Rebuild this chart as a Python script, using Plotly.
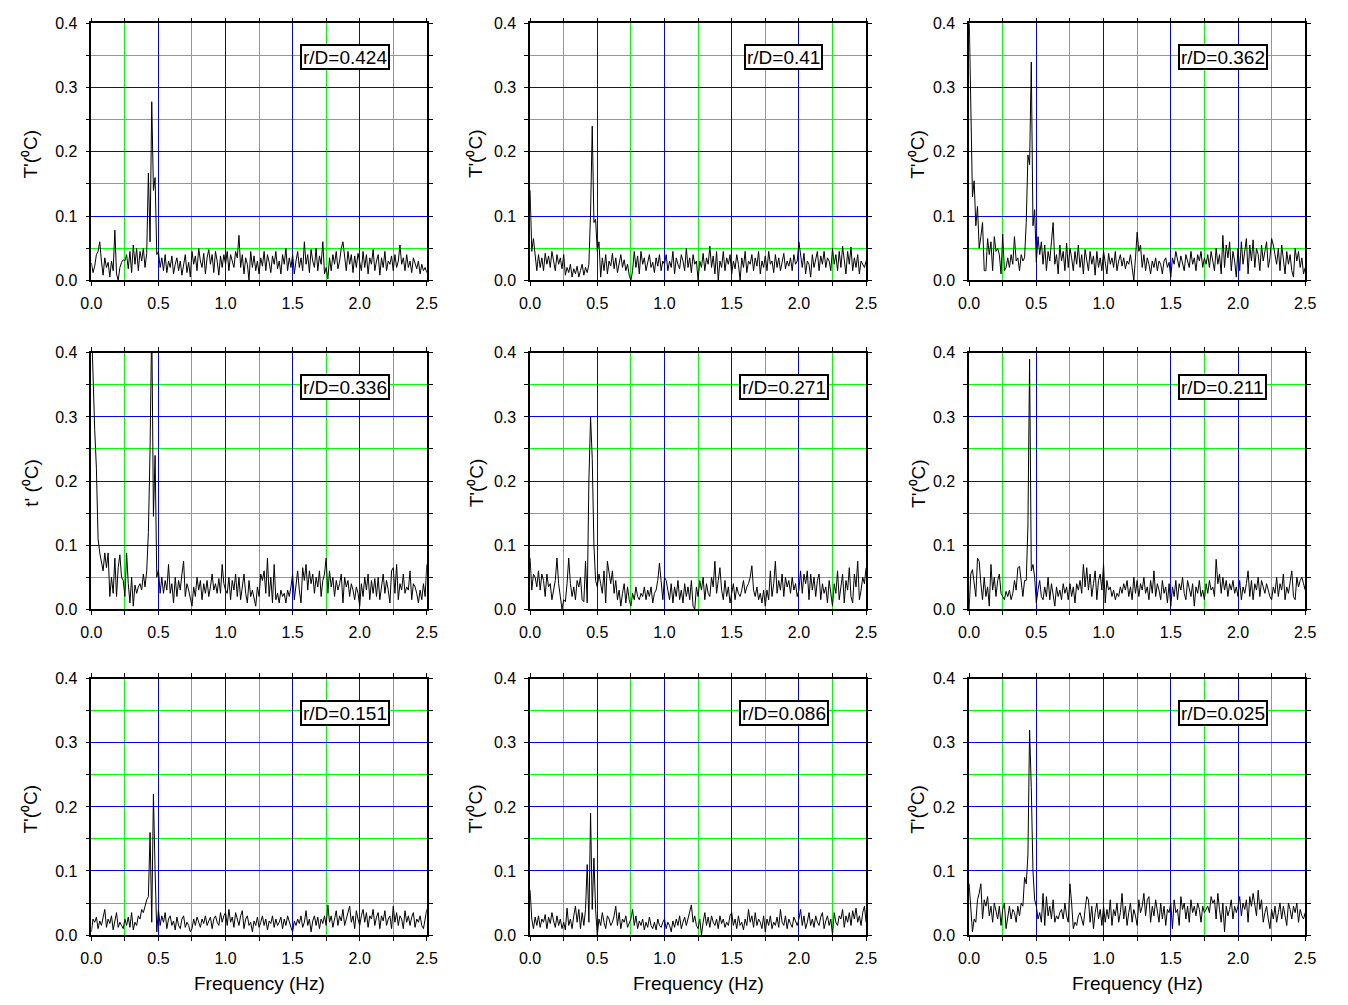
import numpy as np
import plotly.graph_objects as go

# ---------------- data (temperature fluctuation amplitude, units of 1e-3 degC) -------------
F_MAX = 2.5  # Hz, spectrum evaluated on a uniform grid from 0 to F_MAX

RD_LABELS = ["r/D=0.424", "r/D=0.41", "r/D=0.362",
             "r/D=0.336", "r/D=0.271", "r/D=0.211",
             "r/D=0.151", "r/D=0.086", "r/D=0.025"]

Y_TITLES = ["T'(⁰C)", "T'(⁰C)", "T'(⁰C)",
            "t' (⁰C)", "T'(⁰C)", "T'(⁰C)",
            "T'(⁰C)", "T'(⁰C)", "T'(⁰C)"]

X_TITLE = "Frequency (Hz)"

T424 = [27, 12, 22, 40, 45, 60, 30, 8, 35, 20,
        28, 5, 30, 15, 78, 10, 0, 20, 28, 32,
        30, 40, 18, 45, 12, 55, 25, 50, 15, 45, 30, 50, 20, 42,
        167, 60, 278, 140, 160, 40,
        45, 20, 35, 15, 40, 12, 30, 20, 38, 10, 25, 35, 15, 30, 8, 22, 40, 12, 28, 5,
        45, 25, 38, 15, 50, 30, 20, 42, 10, 35, 48, 25, 40, 12, 45, 30, 8, 38, 20, 40,
        25, 45, 15, 40, 30, 20, 45, 35, 70, 20, 40, 10, 35, 25, 0, 45, 20, 38, 15, 30,
        10, 35, 22, 45, 15, 40, 28, 12, 38, 25, 45, 18, 30, 10, 40, 25, 50, 15, 35, 20,
        40, 10, 30, 45, 20, 35, 15, 60, 25, 40, 12, 48, 30, 20, 50, 15, 38, 25, 60, 10,
        20, 2, 35, 15, 40, 25, 45, 18, 30, 50, 60, 35, 15, 45, 25, 40, 12, 38, 20, 42,
        30, 15, 45, 20, 40, 10, 35, 25, 48, 15, 30, 40, 8, 35, 20, 45, 15, 30, 25, 38,
        15, 40, 20, 30, 55, 25, 35, 15, 40, 20, 30, 12, 35, 25, 18, 30, 10, 25, 15, 20, 12]

T410 = [140, 45, 65, 40,
        15, 40, 20, 35, 15, 42, 25, 38, 20, 45, 30, 15, 40, 25, 35, 18,
        40, 8, 20, 12, 25, 5, 18, 10, 22, 5, 15, 25, 8, 20, 12, 25,
        105, 240, 90, 95, 45, 60, 5,
        35, 15, 40, 10, 30, 22, 42, 18, 35, 12, 28, 40, 20, 32, 15, 25, 8,
        0, 15, 45, 20, 38, 10, 45, 25, 35, 15, 30, 40, 20, 28, 12, 35, 22, 40, 15, 30,
        25, 40, 15, 30, 20, 45, 10, 35, 25, 18, 40, 30, 15, 50, 20, 35, 12, 40, 25, 30,
        0, 30, 20, 42, 15, 35, 25, 53, 20, 38, 10, 45, 0, 30, 20, 45, 15, 35, 25, 40,
        10, 30, 18, 40, 25, 0, 35, 20, 45, 12, 30, 25, 40, 15, 35, 22, 45, 10, 30, 20,
        38, 15, 45, 25, 30, 12, 40, 20, 35, 15, 28, 42, 18, 30, 22, 35, 15, 40, 25, 30,
        60, 35, 20, 42, 10, 30, 25, 5, 40, 20, 35, 45, 15, 38, 25, 45, 20, 35, 30, 15,
        50, 25, 40, 15, 45, 20, 53, 30, 10, 45, 25, 52, 15, 35, 20, 40, 10, 30, 25, 20, 30]

T362 = [420, 260, 130, 155, 85, 115, 50, 68, 90, 15, 15, 65, 40, 60, 15, 68, 45, 50, 40, 10,
        72, 15, 20, 35, 20, 40, 25, 68, 30, 35, 15, 40, 30, 35, 90, 195, 180, 340, 85, 110,
        28, 68, 40, 60, 25, 55, 15, 45, 30, 60, 90, 25, 40, 10, 55, 30, 45, 15, 58, 20,
        50, 35, 15, 45, 25, 55, 20, 40, 10, 48, 30, 15, 45, 25, 38, 8, 45, 20, 35, 15,
        45, 30, 10, 42, 25, 35, 20, 45, 15, 30, 40, 22, 35, 18, 30, 25, 40, 20, 0, 35,
        75, 45, 55, 20, 40, 15, 35, 25, 10, 30, 20, 35, 15, 30, 25, 10, 30, 35, 20, 28,
        5, 35, 25, 45, 30, 20, 38, 25, 15, 40, 30, 20, 45, 25, 35, 15, 40, 30, 45, 20,
        35, 25, 40, 20, 45, 30, 15, 50, 25, 40, 10, 70, 20, 55, 35, 60, 15, 45, 30, 5,
        50, 15, 60, 25, 45, 65, 10, 55, 30, 63, 20, 50, 40, 15, 55, 30, 45, 60, 20, 35,
        65, 55, 40, 25, 50, 15, 55, 30, 10, 45, 25, 40, 15, 5, 50, 30, 45, 20, 35, 10, 20]

T336 = [450, 350, 280, 220, 110, 88, 75, 60, 88, 65, 88, 20, 50, 25, 80, 20, 65, 85, 50, 45,
        20, 88, 40, 10, 50, 5, 38, 25, 35, 40, 30, 55, 35, 60, 120, 250, 450, 145, 240, 50,
        62, 25, 50, 25, 45, 30, 70, 25, 40, 10, 50, 20, 45, 30, 55, 75, 20, 40, 30, 15,
        5, 35, 20, 50, 30, 45, 15, 40, 25, 45, 20, 35, 55, 30, 40, 25, 48, 25, 70, 40,
        30, 25, 50, 15, 45, 30, 55, 20, 50, 15, 40, 55, 25, 10, 45, 20, 30, 15, 5, 35,
        20, 55, 45, 60, 25, 80, 20, 50, 10, 70, 15, 25, 10, 30, 20, 25, 10, 30, 20, 35,
        55, 15, 40, 60, 30, 10, 65, 45, 70, 30, 60, 40, 55, 25, 50, 35, 60, 20, 45, 55,
        80, 25, 60, 35, 50, 20, 45, 30, 40, 55, 10, 50, 35, 45, 20, 40, 30, 15, 35, 25,
        5, 40, 20, 50, 30, 55, 15, 45, 25, 48, 20, 50, 15, 40, 55, 25, 45, 30, 10, 60,
        65, 25, 70, 15, 40, 30, 55, 25, 35, 30, 60, 15, 40, 35, 25, 10, 30, 15, 40, 20, 70]

T271 = [80, 30, 55, 50, 35, 60, 30, 55, 45, 20, 55, 35, 40, 15, 30, 45, 80, 40, 20, 0,
        15, 12, 40, 80, 40, 20, 35, 15, 45, 35, 50, 15, 12, 75, 10, 200, 300, 235, 100, 45,
        35, 55, 40, 25, 60, 10, 75, 55, 40, 60, 25, 45, 15, 30, 5, 25, 40, 10, 35, 15,
        5, 25, 15, 35, 20, 15, 25, 20, 35, 15, 30, 20, 35, 10, 25, 30, 45, 72, 40, 15,
        50, 45, 30, 15, 40, 10, 35, 20, 45, 15, 30, 10, 40, 20, 35, 15, 45, 5, 0, 35,
        20, 45, 30, 50, 15, 40, 25, 20, 50, 35, 75, 25, 45, 65, 30, 15, 45, 20, 35, 10,
        25, 40, 15, 35, 25, 20, 30, 45, 25, 35, 40, 50, 68, 30, 20, 35, 15, 25, 10, 30,
        5, 30, 15, 60, 20, 40, 75, 25, 45, 30, 55, 20, 50, 35, 45, 25, 50, 30, 40, 20,
        30, 60, 25, 55, 40, 60, 15, 55, 30, 50, 20, 45, 55, 15, 40, 25, 35, 10, 45, 20,
        5, 40, 25, 60, 15, 35, 55, 10, 45, 30, 65, 20, 10, 55, 35, 75, 15, 30, 50, 40, 65]

T211 = [0, 55, 62, 40, 20, 80, 75, 40, 15, 50, 20, 35, 5, 70, 30, 50, 20, 45, 55, 25,
        20, 15, 28, 20, 30, 15, 25, 45, 30, 65, 67, 40, 20, 45, 45, 130, 390, 60, 70, 50,
        10, 30, 45, 20, 15, 35, 20, 50, 15, 40, 25, 5, 35, 20, 30, 15, 40, 25, 35, 15,
        40, 20, 35, 10, 40, 30, 45, 25, 70, 35, 65, 30, 55, 20, 40, 60, 15, 45, 55, 30,
        70, 10, 45, 30, 35, 20, 30, 15, 25, 20, 35, 25, 40, 30, 45, 20, 35, 15, 50, 25,
        45, 20, 40, 30, 50, 25, 35, 15, 45, 25, 60, 20, 40, 30, 15, 45, 25, 35, 10, 40,
        5, 35, 20, 45, 15, 40, 30, 50, 25, 15, 45, 30, 20, 40, 5, 35, 25, 45, 20, 30,
        15, 40, 25, 45, 30, 35, 20, 78, 40, 55, 25, 50, 30, 45, 20, 40, 30, 45, 25, 35,
        20, 45, 15, 35, 25, 40, 60, 20, 45, 15, 40, 30, 50, 20, 45, 35, 25, 40, 30, 20,
        15, 35, 25, 50, 20, 40, 30, 55, 15, 35, 25, 45, 60, 20, 15, 50, 35, 45, 50, 40, 30]

T151 = [5, 25, 20, 28, 10, 22, 15, 30, 40, 12, 25, 18, 30, 8, 22, 35, 12, 20, 15, 10,
        25, 15, 28, 12, 35, 8, 20, 15, 30, 25, 40, 35, 45, 55, 60, 160, 20, 220, 100, 5,
        40, 15, 30, 20, 35, 10, 25, 30, 15, 22, 8, 28, 15, 10, 25, 30, 12, 20, 15, 5,
        10, 25, 15, 28, 20, 12, 25, 18, 30, 15, 22, 28, 10, 25, 30, 20, 15, 35, 20, 30,
        35, 15, 40, 20, 28, 12, 35, 25, 15, 30, 38, 10, 25, 30, 15, 20, 5, 22, 15, 28,
        12, 20, 30, 15, 25, 8, 22, 18, 30, 12, 25, 15, 20, 28, 10, 25, 15, 30, 20, 12,
        5, 22, 15, 25, 18, 30, 12, 20, 38, 15, 25, 5, 22, 30, 15, 28, 10, 25, 18, 30,
        15, 47, 20, 30, 12, 25, 38, 15, 30, 22, 40, 15, 25, 35, 45, 20, 30, 10, 38, 25,
        15, 30, 40, 20, 35, 12, 30, 25, 40, 15, 28, 35, 10, 30, 22, 38, 15, 25, 30, 10,
        45, 20, 35, 15, 30, 25, 10, 38, 20, 30, 15, 28, 35, 12, 25, 20, 30, 15, 10, 25, 40]

T086 = [70, 25, 10, 28, 15, 30, 12, 25, 20, 32, 10, 28, 18, 35, 22, 12, 30, 15, 25, 10,
        20, 8, 42, 15, 25, 10, 30, 45, 20, 40, 10, 35, 15, 40, 110, 20, 190, 40, 120, 40,
        0, 25, 15, 35, 20, 10, 30, 25, 15, 20, 30, 45, 15, 35, 10, 25, 20, 30, 12, 20,
        25, 40, 15, 30, 10, 22, 15, 25, 8, 20, 12, 28, 15, 10, 20, 8, 25, 15, 12, 20,
        25, 10, 20, 15, 5, 22, 12, 25, 15, 30, 10, 20, 28, 15, 25, 35, 47, 20, 30, 15,
        10, 25, 0, 20, 35, 15, 28, 12, 30, 20, 15, 25, 10, 30, 18, 25, 12, 20, 15, 30,
        35, 15, 25, 10, 30, 15, 20, 8, 25, 15, 40, 20, 30, 12, 35, 15, 25, 20, 10, 30,
        5, 25, 15, 30, 10, 20, 15, 28, 12, 40, 20, 15, 30, 10, 25, 18, 12, 28, 20, 15,
        25, 40, 15, 30, 10, 20, 35, 15, 25, 12, 30, 20, 15, 28, 35, 10, 22, 30, 15, 25,
        0, 35, 20, 15, 30, 25, 40, 12, 30, 20, 35, 15, 38, 25, 42, 20, 30, 15, 35, 45, 20]

T025 = [80, 40, 5, 25, 20, 55, 65, 80, 25, 55, 45, 60, 30, 45, 20, 50, 35, 25, 45, 15,
        40, 50, 10, 30, 45, 25, 40, 35, 20, 45, 30, 50, 45, 90, 80, 125, 320, 230, 100, 55,
        45, 25, 35, 20, 65, 15, 60, 30, 45, 25, 55, 20, 30, 25, 35, 40, 25, 50, 30, 20,
        80, 50, 10, 20, 15, 30, 35, 25, 15, 40, 60, 55, 20, 45, 10, 35, 50, 25, 40, 15,
        45, 20, 40, 25, 55, 15, 40, 30, 50, 20, 35, 65, 25, 45, 15, 35, 50, 20, 40, 30,
        15, 55, 35, 45, 65, 30, 55, 60, 20, 45, 30, 55, 40, 20, 50, 25, 45, 15, 40, 35,
        50, 10, 55, 35, 40, 15, 60, 40, 50, 25, 45, 20, 55, 35, 45, 30, 50, 40, 20, 45,
        35, 40, 45, 35, 60, 50, 55, 25, 65, 40, 20, 50, 5, 45, 30, 40, 55, 25, 45, 35,
        45, 60, 30, 50, 40, 55, 20, 60, 45, 65, 50, 30, 70, 40, 55, 20, 35, 45, 25, 10,
        40, 25, 45, 20, 35, 50, 25, 45, 30, 15, 50, 40, 25, 45, 35, 50, 20, 40, 30, 25, 35]

SERIES = [T424, T410, T362, T336, T271, T211, T151, T086, T025]

# ---------------- layout geometry ----------------
W, H = 1348, 1005
COL_PX = [(81.7, 422.7), (527.7, 869.3), (974.0, 1315.7)]
ROW_PX = [(15.7, 277.0), (350.7, 611.7), (682.3, 943.0)]
YTITLE_X_PX = [20, 473, 922]
FONT = "Liberation Sans, Arial, Helvetica, sans-serif"

fig = go.Figure()

annotations = []
for k, vals in enumerate(SERIES):
    r, c = divmod(k, 3)
    n = k + 1
    xs = "" if n == 1 else str(n)
    freq = np.linspace(0.0, F_MAX, len(vals))
    amp = np.asarray(vals, dtype=float) / 1000.0
    fig.add_trace(go.Scatter(x=freq, y=amp, mode="lines",
                             line=dict(color="black", width=1),
                             xaxis="x" + xs, yaxis="y" + xs,
                             showlegend=False, hoverinfo="skip"))

    x0, x1 = COL_PX[c]
    y0, y1 = ROW_PX[r]
    common = dict(showline=True, linecolor="black", linewidth=1.5, mirror="ticks",
                  ticks="outside", ticklen=4, tickwidth=1, tickcolor="black",
                  showgrid=True, gridwidth=1, zeroline=False,
                  tickfont=dict(size=16, color="black", family=FONT),
                  tickformat=".1f", fixedrange=True)
    fig.layout["xaxis" + xs] = dict(
        common, domain=[x0 / W, x1 / W], anchor="y" + xs, range=[0, 2.5],
        tick0=0, dtick=0.5, gridcolor="#0000ff", ticklabelstandoff=4,
        minor=dict(dtick=0.25, ticks="outside", ticklen=4, tickwidth=1,
                   tickcolor="black", showgrid=True, gridcolor="#00ff00", gridwidth=1))
    fig.layout["yaxis" + xs] = dict(
        common, domain=[1 - y1 / H, 1 - y0 / H], anchor="x" + xs, range=[0, 0.4],
        tick0=0, dtick=0.1, gridcolor="#0000ff", ticklabelstandoff=5,
        minor=dict(dtick=0.05, ticks="outside", ticklen=4, tickwidth=1,
                   tickcolor="black", showgrid=True, gridcolor="#00ff00", gridwidth=1))

    # r/D label box
    annotations.append(dict(text=RD_LABELS[k], x=1.887, y=0.347,
                            xref="x" + xs, yref="y" + xs, showarrow=False,
                            xanchor="center", yanchor="middle",
                            font=dict(size=19, color="black", family=FONT),
                            bgcolor="white", bordercolor="black", borderwidth=2,
                            borderpad=1, height=20))
    # y title
    annotations.append(dict(text=Y_TITLES[k], x=YTITLE_X_PX[c] / W,
                            y=1 - ((y0 + y1) / 2 + 2) / H,
                            xref="paper", yref="paper", showarrow=False,
                            textangle=-90, xanchor="center", yanchor="middle",
                            font=dict(size=19, color="black", family=FONT)))
    # x title on bottom row
    if r == 2:
        annotations.append(dict(text=X_TITLE, x=(x0 + x1) / 2 / W, y=1 - 992 / H,
                                xref="paper", yref="paper", showarrow=False,
                                xanchor="center", yanchor="middle",
                                font=dict(size=19, color="black", family=FONT)))

fig.update_layout(width=W, height=H, margin=dict(l=0, r=0, t=0, b=0),
                  paper_bgcolor="white", plot_bgcolor="white",
                  annotations=annotations, showlegend=False,
                  font=dict(family=FONT, color="black"))

fig.write_html("out.html")
